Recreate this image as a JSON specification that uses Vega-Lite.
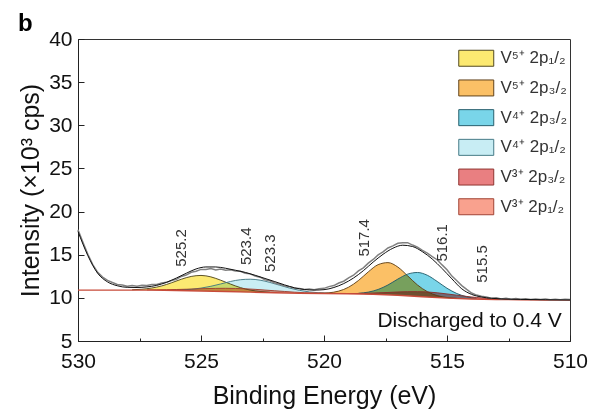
{
  "$schema": "https://vega.github.io/schema/vega-lite/v6.json",
  "width": 492,
  "height": 302,
  "autosize": {"type": "none"},
  "padding": {"left": 78, "top": 39, "right": 21, "bottom": 69},
  "background": "white",
  "config": {
    "font": "Liberation Sans",
    "view": {"stroke": "#333333", "strokeWidth": 1},
    "axis": {"domainColor": "#222222", "tickColor": "#222222", "labelColor": "#111111", "titleColor": "#111111", "labelFont": "Liberation Sans", "titleFont": "Liberation Sans", "titleFontWeight": "normal", "grid": false, "labelFlush": false, "labelOverlap": false}
  },
  "title": {"text": "b", "anchor": "start", "frame": "group", "dx": -60, "dy": 12, "fontSize": 24, "fontWeight": "bold", "font": "Liberation Sans", "color": "#000000", "offset": 4},
  "datasets": {
    "peaks": [
      {"e": 527.8, "s": "Y", "lo": 10.9, "hi": 10.936},
      {"e": 527.4, "s": "Y", "lo": 10.9, "hi": 11.001},
      {"e": 527.0, "s": "Y", "lo": 10.9, "hi": 11.144},
      {"e": 526.6, "s": "Y", "lo": 10.88, "hi": 11.38},
      {"e": 526.2, "s": "Y", "lo": 10.87, "hi": 11.746},
      {"e": 525.8, "s": "Y", "lo": 10.85, "hi": 12.157},
      {"e": 525.4, "s": "Y", "lo": 10.82, "hi": 12.482},
      {"e": 525.0, "s": "Y", "lo": 10.8, "hi": 12.6},
      {"e": 524.6, "s": "Y", "lo": 10.77, "hi": 12.432},
      {"e": 524.2, "s": "Y", "lo": 10.74, "hi": 12.047},
      {"e": 523.8, "s": "Y", "lo": 10.72, "hi": 11.596},
      {"e": 523.4, "s": "Y", "lo": 10.69, "hi": 11.19},
      {"e": 523.0, "s": "Y", "lo": 10.66, "hi": 10.904},
      {"e": 522.6, "s": "Y", "lo": 10.64, "hi": 10.741},
      {"e": 522.2, "s": "Y", "lo": 10.61, "hi": 10.646},
      {"e": 526.2, "s": "L", "lo": 10.87, "hi": 10.901},
      {"e": 525.8, "s": "L", "lo": 10.85, "hi": 10.927},
      {"e": 525.4, "s": "L", "lo": 10.82, "hi": 10.99},
      {"e": 525.0, "s": "L", "lo": 10.8, "hi": 11.131},
      {"e": 524.6, "s": "L", "lo": 10.77, "hi": 11.34},
      {"e": 524.2, "s": "L", "lo": 10.74, "hi": 11.61},
      {"e": 523.8, "s": "L", "lo": 10.72, "hi": 11.898},
      {"e": 523.4, "s": "L", "lo": 10.69, "hi": 12.102},
      {"e": 523.0, "s": "L", "lo": 10.66, "hi": 12.16},
      {"e": 522.6, "s": "L", "lo": 10.64, "hi": 12.052},
      {"e": 522.2, "s": "L", "lo": 10.61, "hi": 11.788},
      {"e": 521.8, "s": "L", "lo": 10.59, "hi": 11.46},
      {"e": 521.4, "s": "L", "lo": 10.56, "hi": 11.13},
      {"e": 521.0, "s": "L", "lo": 10.54, "hi": 10.871},
      {"e": 520.6, "s": "L", "lo": 10.52, "hi": 10.69},
      {"e": 520.2, "s": "L", "lo": 10.51, "hi": 10.587},
      {"e": 519.8, "s": "L", "lo": 10.49, "hi": 10.521},
      {"e": 527.2, "s": "S", "lo": 10.9, "hi": 10.922},
      {"e": 526.8, "s": "S", "lo": 10.89, "hi": 10.93},
      {"e": 526.4, "s": "S", "lo": 10.88, "hi": 10.949},
      {"e": 526.0, "s": "S", "lo": 10.86, "hi": 10.968},
      {"e": 525.6, "s": "S", "lo": 10.84, "hi": 11.0},
      {"e": 525.2, "s": "S", "lo": 10.81, "hi": 11.031},
      {"e": 524.8, "s": "S", "lo": 10.79, "hi": 11.073},
      {"e": 524.4, "s": "S", "lo": 10.76, "hi": 11.098},
      {"e": 524.0, "s": "S", "lo": 10.73, "hi": 11.107},
      {"e": 523.6, "s": "S", "lo": 10.7, "hi": 11.09},
      {"e": 523.2, "s": "S", "lo": 10.67, "hi": 11.047},
      {"e": 522.8, "s": "S", "lo": 10.65, "hi": 10.988},
      {"e": 522.4, "s": "S", "lo": 10.62, "hi": 10.903},
      {"e": 522.0, "s": "S", "lo": 10.6, "hi": 10.821},
      {"e": 521.6, "s": "S", "lo": 10.58, "hi": 10.74},
      {"e": 521.2, "s": "S", "lo": 10.55, "hi": 10.658},
      {"e": 520.8, "s": "S", "lo": 10.53, "hi": 10.599},
      {"e": 520.4, "s": "S", "lo": 10.52, "hi": 10.56},
      {"e": 520.0, "s": "S", "lo": 10.5, "hi": 10.522},
      {"e": 520.2, "s": "O", "lo": 10.51, "hi": 10.535},
      {"e": 519.8, "s": "O", "lo": 10.49, "hi": 10.587},
      {"e": 519.4, "s": "O", "lo": 10.48, "hi": 10.783},
      {"e": 519.0, "s": "O", "lo": 10.47, "hi": 11.235},
      {"e": 518.6, "s": "O", "lo": 10.45, "hi": 12.011},
      {"e": 518.2, "s": "O", "lo": 10.43, "hi": 13.009},
      {"e": 517.8, "s": "O", "lo": 10.4, "hi": 13.849},
      {"e": 517.4, "s": "O", "lo": 10.35, "hi": 14.084},
      {"e": 517.0, "s": "O", "lo": 10.3, "hi": 13.572},
      {"e": 516.6, "s": "O", "lo": 10.23, "hi": 12.55},
      {"e": 516.2, "s": "O", "lo": 10.16, "hi": 11.492},
      {"e": 515.8, "s": "O", "lo": 10.1, "hi": 10.719},
      {"e": 515.4, "s": "O", "lo": 10.03, "hi": 10.263},
      {"e": 515.0, "s": "O", "lo": 9.97, "hi": 10.041},
      {"e": 514.6, "s": "O", "lo": 9.93, "hi": 9.947},
      {"e": 518.6, "s": "C", "lo": 10.45, "hi": 10.529},
      {"e": 518.2, "s": "C", "lo": 10.43, "hi": 10.665},
      {"e": 517.8, "s": "C", "lo": 10.4, "hi": 10.973},
      {"e": 517.4, "s": "C", "lo": 10.35, "hi": 11.493},
      {"e": 517.0, "s": "C", "lo": 10.3, "hi": 12.173},
      {"e": 516.6, "s": "C", "lo": 10.23, "hi": 12.749},
      {"e": 516.2, "s": "C", "lo": 10.16, "hi": 12.94},
      {"e": 515.8, "s": "C", "lo": 10.1, "hi": 12.619},
      {"e": 515.4, "s": "C", "lo": 10.03, "hi": 11.903},
      {"e": 515.0, "s": "C", "lo": 9.97, "hi": 11.113},
      {"e": 514.6, "s": "C", "lo": 9.93, "hi": 10.503},
      {"e": 514.2, "s": "C", "lo": 9.89, "hi": 10.125},
      {"e": 513.8, "s": "C", "lo": 9.86, "hi": 9.939},
      {"e": 519.0, "s": "R", "lo": 10.47, "hi": 10.499},
      {"e": 518.6, "s": "R", "lo": 10.45, "hi": 10.507},
      {"e": 518.2, "s": "R", "lo": 10.43, "hi": 10.537},
      {"e": 517.8, "s": "R", "lo": 10.4, "hi": 10.579},
      {"e": 517.4, "s": "R", "lo": 10.35, "hi": 10.624},
      {"e": 517.0, "s": "R", "lo": 10.3, "hi": 10.682},
      {"e": 516.6, "s": "R", "lo": 10.23, "hi": 10.714},
      {"e": 516.2, "s": "R", "lo": 10.16, "hi": 10.718},
      {"e": 515.8, "s": "R", "lo": 10.1, "hi": 10.685},
      {"e": 515.4, "s": "R", "lo": 10.03, "hi": 10.588},
      {"e": 515.0, "s": "R", "lo": 9.97, "hi": 10.454},
      {"e": 514.6, "s": "R", "lo": 9.93, "hi": 10.312},
      {"e": 514.2, "s": "R", "lo": 9.89, "hi": 10.164},
      {"e": 513.8, "s": "R", "lo": 9.86, "hi": 10.039},
      {"e": 513.4, "s": "R", "lo": 9.83, "hi": 9.937},
      {"e": 513.0, "s": "R", "lo": 9.81, "hi": 9.867},
      {"e": 512.6, "s": "R", "lo": 9.8, "hi": 9.829}
    ],
    "bg": [
      {"e": 530, "i": 10.9}, {"e": 529, "i": 10.9}, {"e": 528, "i": 10.9}, {"e": 527, "i": 10.9},
      {"e": 526, "i": 10.86}, {"e": 525, "i": 10.8}, {"e": 524, "i": 10.73}, {"e": 523, "i": 10.66},
      {"e": 522, "i": 10.6}, {"e": 521, "i": 10.54}, {"e": 520, "i": 10.5}, {"e": 519, "i": 10.47},
      {"e": 518, "i": 10.42}, {"e": 517, "i": 10.3}, {"e": 516, "i": 10.13}, {"e": 515, "i": 9.97},
      {"e": 514, "i": 9.87}, {"e": 513, "i": 9.81}, {"e": 512, "i": 9.78}, {"e": 511, "i": 9.76}, {"e": 510, "i": 9.75}
    ],
    "fit": [
      {"e": 530.0, "i": 17.7}, {"e": 529.6, "i": 14.9}, {"e": 529.2, "i": 12.85}, {"e": 528.8, "i": 11.85},
      {"e": 528.4, "i": 11.4}, {"e": 528.0, "i": 11.22}, {"e": 527.6, "i": 11.2}, {"e": 527.2, "i": 11.27},
      {"e": 526.8, "i": 11.45}, {"e": 526.4, "i": 11.8}, {"e": 526.0, "i": 12.3}, {"e": 525.6, "i": 12.85},
      {"e": 525.2, "i": 13.35}, {"e": 524.8, "i": 13.58}, {"e": 524.4, "i": 13.58}, {"e": 524.0, "i": 13.43},
      {"e": 523.6, "i": 13.2}, {"e": 523.2, "i": 12.95}, {"e": 522.8, "i": 12.62}, {"e": 522.4, "i": 12.25},
      {"e": 522.0, "i": 11.88}, {"e": 521.6, "i": 11.5}, {"e": 521.2, "i": 11.17}, {"e": 520.8, "i": 10.97},
      {"e": 520.4, "i": 10.9}, {"e": 520.0, "i": 10.95}, {"e": 519.6, "i": 11.2}, {"e": 519.2, "i": 11.65},
      {"e": 518.8, "i": 12.3}, {"e": 518.4, "i": 13.15}, {"e": 518.0, "i": 14.15}, {"e": 517.6, "i": 15.05},
      {"e": 517.2, "i": 15.75}, {"e": 516.8, "i": 16.1}, {"e": 516.4, "i": 15.95}, {"e": 516.0, "i": 15.35},
      {"e": 515.6, "i": 14.5}, {"e": 515.2, "i": 13.4}, {"e": 514.8, "i": 12.2}, {"e": 514.4, "i": 11.05},
      {"e": 514.0, "i": 10.4}, {"e": 513.6, "i": 10.1}, {"e": 513.2, "i": 9.95}, {"e": 512.8, "i": 9.88},
      {"e": 512.0, "i": 9.82}, {"e": 511.0, "i": 9.78}, {"e": 510.0, "i": 9.75}
    ],
    "raw": [
      {"e": 530.0, "i": 17.9}, {"e": 529.8, "i": 16.45}, {"e": 529.6, "i": 15.05}, {"e": 529.4, "i": 13.85},
      {"e": 529.2, "i": 12.95}, {"e": 529.0, "i": 12.4}, {"e": 528.8, "i": 12.02}, {"e": 528.6, "i": 11.78},
      {"e": 528.4, "i": 11.56}, {"e": 528.2, "i": 11.5}, {"e": 528.0, "i": 11.36}, {"e": 527.8, "i": 11.42},
      {"e": 527.6, "i": 11.35}, {"e": 527.4, "i": 11.47}, {"e": 527.2, "i": 11.42}, {"e": 527.0, "i": 11.55},
      {"e": 526.8, "i": 11.56}, {"e": 526.6, "i": 11.72}, {"e": 526.4, "i": 11.8}, {"e": 526.2, "i": 12.02},
      {"e": 526.0, "i": 12.14}, {"e": 525.8, "i": 12.48}, {"e": 525.6, "i": 12.64}, {"e": 525.4, "i": 12.96},
      {"e": 525.2, "i": 13.08}, {"e": 525.0, "i": 13.3}, {"e": 524.8, "i": 13.28}, {"e": 524.6, "i": 13.4},
      {"e": 524.4, "i": 13.24}, {"e": 524.2, "i": 13.33}, {"e": 524.0, "i": 13.2}, {"e": 523.8, "i": 13.25},
      {"e": 523.6, "i": 13.1}, {"e": 523.4, "i": 13.07}, {"e": 523.2, "i": 12.86}, {"e": 523.0, "i": 12.78},
      {"e": 522.8, "i": 12.52}, {"e": 522.6, "i": 12.4}, {"e": 522.4, "i": 12.1}, {"e": 522.2, "i": 11.98},
      {"e": 522.0, "i": 11.72}, {"e": 521.8, "i": 11.58}, {"e": 521.6, "i": 11.38}, {"e": 521.4, "i": 11.3},
      {"e": 521.2, "i": 11.12}, {"e": 521.0, "i": 11.08}, {"e": 520.8, "i": 10.97}, {"e": 520.6, "i": 11.02},
      {"e": 520.4, "i": 10.93}, {"e": 520.2, "i": 11.06}, {"e": 520.0, "i": 11.1}, {"e": 519.8, "i": 11.3},
      {"e": 519.6, "i": 11.42}, {"e": 519.4, "i": 11.72}, {"e": 519.2, "i": 11.93}, {"e": 519.0, "i": 12.32},
      {"e": 518.8, "i": 12.62}, {"e": 518.6, "i": 13.12}, {"e": 518.4, "i": 13.48}, {"e": 518.2, "i": 14.02},
      {"e": 518.0, "i": 14.45}, {"e": 517.8, "i": 14.98}, {"e": 517.6, "i": 15.32}, {"e": 517.4, "i": 15.78},
      {"e": 517.2, "i": 16.02}, {"e": 517.0, "i": 16.32}, {"e": 516.8, "i": 16.38}, {"e": 516.6, "i": 16.4},
      {"e": 516.4, "i": 16.12}, {"e": 516.2, "i": 15.88}, {"e": 516.0, "i": 15.5}, {"e": 515.8, "i": 15.18},
      {"e": 515.6, "i": 14.78}, {"e": 515.4, "i": 14.42}, {"e": 515.2, "i": 13.82}, {"e": 515.0, "i": 13.25},
      {"e": 514.8, "i": 12.52}, {"e": 514.6, "i": 11.98}, {"e": 514.4, "i": 11.42}, {"e": 514.2, "i": 10.98},
      {"e": 514.0, "i": 10.56}, {"e": 513.8, "i": 10.32}, {"e": 513.6, "i": 10.18}, {"e": 513.4, "i": 10.1},
      {"e": 513.2, "i": 9.96}, {"e": 513.0, "i": 10.02}, {"e": 512.8, "i": 9.88}, {"e": 512.6, "i": 9.96},
      {"e": 512.4, "i": 9.85}, {"e": 512.2, "i": 9.93}, {"e": 512.0, "i": 9.84}, {"e": 511.8, "i": 9.91},
      {"e": 511.6, "i": 9.82}, {"e": 511.4, "i": 9.88}, {"e": 511.2, "i": 9.8}, {"e": 511.0, "i": 9.86},
      {"e": 510.8, "i": 9.79}, {"e": 510.6, "i": 9.85}, {"e": 510.4, "i": 9.78}, {"e": 510.2, "i": 9.83},
      {"e": 510.0, "i": 9.8}
    ],
    "labels": [
      {"e": 525.8, "i": 13.6, "t": "525.2"},
      {"e": 523.18, "i": 13.8, "t": "523.4"},
      {"e": 522.2, "i": 13.0, "t": "523.3"},
      {"e": 518.37, "i": 14.78, "t": "517.4"},
      {"e": 515.22, "i": 14.2, "t": "516.1"},
      {"e": 513.56, "i": 11.75, "t": "515.5"}
    ],
    "note": [
      {"e": 510.33, "i": 6.66, "t": "Discharged to 0.4 V"}
    ]
  },
  "layer": [
    {
      "data": {"name": "peaks"},
      "mark": {"type": "area", "interpolate": "monotone", "opacity": 0.95, "blend": "multiply"},
      "encoding": {
        "x": {
          "field": "e", "type": "quantitative",
          "scale": {"domain": [530, 510], "nice": false},
          "title": "Binding Energy (eV)",
          "axis": {
            "values": [530, 527.5, 525, 522.5, 520, 517.5, 515, 512.5, 510],
            "labelExpr": "datum.value % 5 === 0 ? format(datum.value, 'd') : ''",
            "tickSize": {"condition": {"test": "datum.value % 5 === 0", "value": -6}, "value": -3},
            "labelPadding": 15,
            "labelFontSize": 21,
            "titleFontSize": 25,
            "titlePadding": 9
          }
        },
        "y": {
          "field": "hi", "type": "quantitative",
          "scale": {"domain": [5, 40], "nice": false, "zero": false},
          "title": "Intensity (×10³ cps)",
          "axis": {
            "values": [5, 7.5, 10, 12.5, 15, 17.5, 20, 22.5, 25, 27.5, 30, 32.5, 35, 37.5, 40],
            "labelExpr": "datum.value % 5 === 0 ? format(datum.value, 'd') : ''",
            "tickSize": {"condition": {"test": "datum.value % 5 === 0", "value": -6}, "value": -3},
            "labelPadding": 12,
            "labelFontSize": 21,
            "titleFontSize": 25,
            "titlePadding": 5
          }
        },
        "y2": {"field": "lo"},
        "fill": {
          "field": "s", "type": "nominal",
          "scale": {"domain": ["Y", "O", "C", "L", "R", "S"], "range": ["#FCE86A", "#FBBD5E", "#72D3E8", "#C6EDF4", "#E8797B", "#F99C88"]},
          "legend": {
            "orient": "none", "legendX": 388.75, "legendY": 9.75, "title": null, "padding": 0,
            "symbolType": "M-2,-0.914H2V0.914H-2Z", "symbolSize": 306,
            "labelFontSize": 17, "labelColor": "#333333", "labelOffset": 14.75, "rowPadding": 8.7, "labelLimit": 200,
            "symbolStrokeColor": "#6d6d6d", "symbolStrokeWidth": 1,
            "labelExpr": "datum.value == 'Y' ? 'V⁵⁺ 2p₁/₂' : datum.value == 'O' ? 'V⁵⁺ 2p₃/₂' : datum.value == 'C' ? 'V⁴⁺ 2p₃/₂' : datum.value == 'L' ? 'V⁴⁺ 2p₁/₂' : datum.value == 'R' ? 'V³⁺ 2p₃/₂' : 'V³⁺ 2p₁/₂'",
            "encode": {"symbols": {"update": {"opacity": {"value": 1}, "fillOpacity": {"value": 1}, "stroke": {"value": "#6d6d6d"}, "strokeWidth": {"value": 1}}}}
          }
        }
      }
    },
    {
      "data": {"name": "peaks"},
      "mark": {"type": "line", "interpolate": "monotone", "strokeWidth": 0.9},
      "encoding": {
        "x": {"field": "e", "type": "quantitative"},
        "y": {"field": "hi", "type": "quantitative"},
        "stroke": {
          "field": "s", "type": "nominal",
          "scale": {"domain": ["Y", "O", "C", "L", "R", "S"], "range": ["#4a4016", "#5a3a10", "#1d5866", "#3d7480", "#8a2a26", "#9c3a2a"]},
          "legend": null
        }
      }
    },
    {
      "data": {"name": "bg"},
      "mark": {"type": "line", "color": "#C84B3A", "strokeWidth": 1.4},
      "encoding": {"x": {"field": "e", "type": "quantitative"}, "y": {"field": "i", "type": "quantitative"}}
    },
    {
      "data": {"name": "raw"},
      "mark": {"type": "line", "color": "#808080", "strokeWidth": 1.5},
      "encoding": {"x": {"field": "e", "type": "quantitative"}, "y": {"field": "i", "type": "quantitative"}}
    },
    {
      "data": {"name": "fit"},
      "mark": {"type": "line", "color": "#111111", "strokeWidth": 1, "interpolate": "monotone"},
      "encoding": {"x": {"field": "e", "type": "quantitative"}, "y": {"field": "i", "type": "quantitative"}}
    },
    {
      "data": {"name": "labels"},
      "mark": {"type": "text", "angle": 270, "align": "left", "baseline": "middle", "fontSize": 15, "color": "#333333", "font": "Liberation Sans"},
      "encoding": {"x": {"field": "e", "type": "quantitative"}, "y": {"field": "i", "type": "quantitative"}, "text": {"field": "t"}}
    },
    {
      "data": {"name": "note"},
      "mark": {"type": "text", "align": "right", "baseline": "alphabetic", "fontSize": 21, "color": "#111111", "font": "Liberation Sans"},
      "encoding": {"x": {"field": "e", "type": "quantitative"}, "y": {"field": "i", "type": "quantitative"}, "text": {"field": "t"}}
    }
  ]
}
